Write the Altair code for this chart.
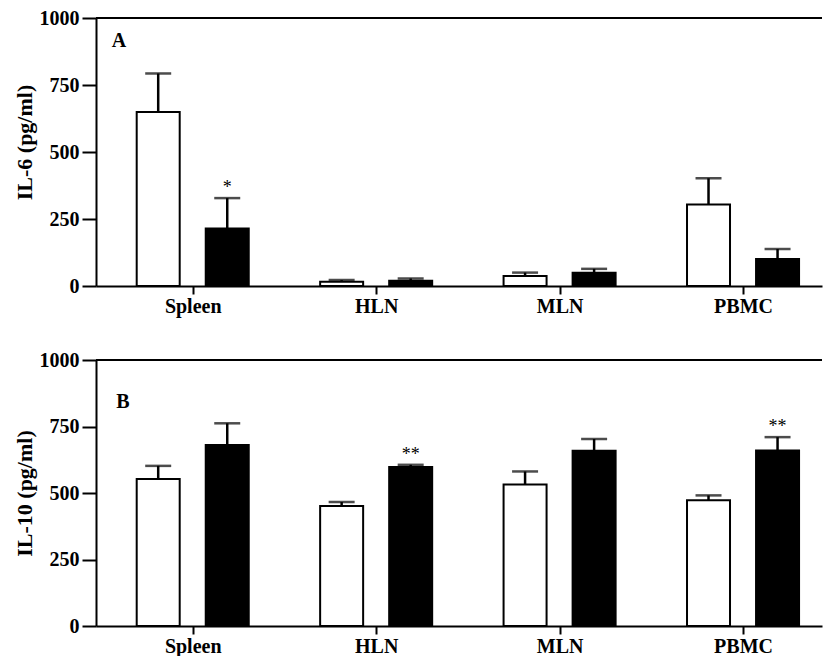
import altair as alt
import pandas as pd

categories = ["Spleen", "HLN", "MLN", "PBMC"]
groups = ["Control", "Treated"]

il6_control = [649, 16, 37, 304]
il6_control_err = [144, 6, 13, 98]
il6_treated = [215, 20, 49, 101]
il6_treated_err = [113, 8, 15, 37]
il6_sig = ["*", "", "", ""]

il10_control = [553, 451, 532, 473]
il10_control_err = [49, 15, 49, 18]
il10_treated = [680, 598, 659, 660]
il10_treated_err = [82, 8, 44, 50]
il10_sig = ["", "**", "", "**"]

y_ticks = [0, 250, 500, 750, 1000]

FONT = "Liberation Serif"
W = 726
STEP = 186.0
OFFSET = 35.0 / STEP


def panel_df(ctrl, ctrl_err, trt, trt_err, trt_sig):
    rows = []
    for i, c in enumerate(categories):
        rows.append(dict(cat=c, idx=i, group=groups[0], value=ctrl[i],
                         upper=ctrl[i] + ctrl_err[i], sig=""))
        rows.append(dict(cat=c, idx=i, group=groups[1], value=trt[i],
                         upper=trt[i] + trt_err[i], sig=trt_sig[i]))
    df = pd.DataFrame(rows)
    df["pos"] = df["idx"] + df["group"].map({groups[0]: -OFFSET, groups[1]: OFFSET})
    return df


label_expr = "[" + ",".join("'%s'" % c for c in categories) + "][datum.value]"


def panel(df, ytitle, letter, letter_x, letter_y, h, title_y):
    x_scale = alt.Scale(domain=[-0.5, W / STEP - 0.5], nice=False, zero=False)
    y_scale = alt.Scale(domain=[0, 1000], nice=False)
    x_axis = alt.Axis(values=list(range(len(categories))), labelExpr=label_expr,
                      title=None, tickSize=8, labelPadding=2, grid=False,
                      labelFontSize=20)
    y_axis = alt.Axis(values=y_ticks, title=ytitle, tickSize=14, labelPadding=3,
                      titlePadding=3, grid=False, format="d", titleY=title_y)
    X = alt.X("pos:Q", scale=x_scale, axis=x_axis)
    base = alt.Chart(df)
    bars = base.mark_bar(size=43, stroke="black", strokeWidth=2).encode(
        x=X,
        y=alt.Y("value:Q", scale=y_scale, axis=y_axis),
        fill=alt.Fill("group:N", scale=alt.Scale(domain=groups, range=["white", "black"]),
                      legend=None),
    )
    stems = base.mark_rule(strokeWidth=2.5, color="black").encode(
        x=X,
        y=alt.Y("value:Q", scale=y_scale, axis=y_axis),
        y2="upper:Q",
    )
    caps = base.mark_tick(orient="horizontal", size=26, thickness=2.5, color="black").encode(
        x=X,
        y=alt.Y("upper:Q", scale=y_scale, axis=y_axis),
    )
    stars = base.mark_text(font=FONT, fontSize=18, dy=-5, baseline="alphabetic",
                           color="black").encode(
        x=X,
        y=alt.Y("upper:Q", scale=y_scale, axis=y_axis),
        text="sig:N",
    )
    top = alt.Chart(pd.DataFrame({"top": [y_ticks[-1]]})).mark_rule(
        strokeWidth=2, color="black").encode(
        y=alt.Y("top:Q", scale=y_scale, axis=y_axis),
        x=alt.value(0), x2=alt.value(W),
    )
    lab = alt.Chart(pd.DataFrame({"t": [letter]})).mark_text(
        font=FONT, fontSize=20, fontWeight="bold", color="black",
        align="center", baseline="middle").encode(
        x=alt.value(letter_x), y=alt.value(letter_y), text="t:N")
    return alt.layer(bars, stems, caps, stars, top, lab).properties(width=W, height=h)


a = panel(panel_df(il6_control, il6_control_err, il6_treated, il6_treated_err, il6_sig),
          "IL-6 (pg/ml)", "A", 23, 23, 268, 124)
b = panel(panel_df(il10_control, il10_control_err, il10_treated, il10_treated_err, il10_sig),
          "IL-10 (pg/ml)", "B", 27, 42, 266, 133)

chart = alt.vconcat(a, b, spacing=74, bounds="flush").properties(
    padding={"left": 5, "top": 0, "right": 0, "bottom": 0}
).configure_view(stroke=None).configure_axis(
    domainColor="black", domainWidth=2, tickColor="black", tickWidth=2,
    labelFont=FONT, labelFontWeight="bold", labelFontSize=20, labelColor="black",
    titleFont=FONT, titleFontWeight="bold", titleFontSize=22, titleColor="black",
)

chart.save("out.html", embed_options={"renderer": "svg", "actions": False})
